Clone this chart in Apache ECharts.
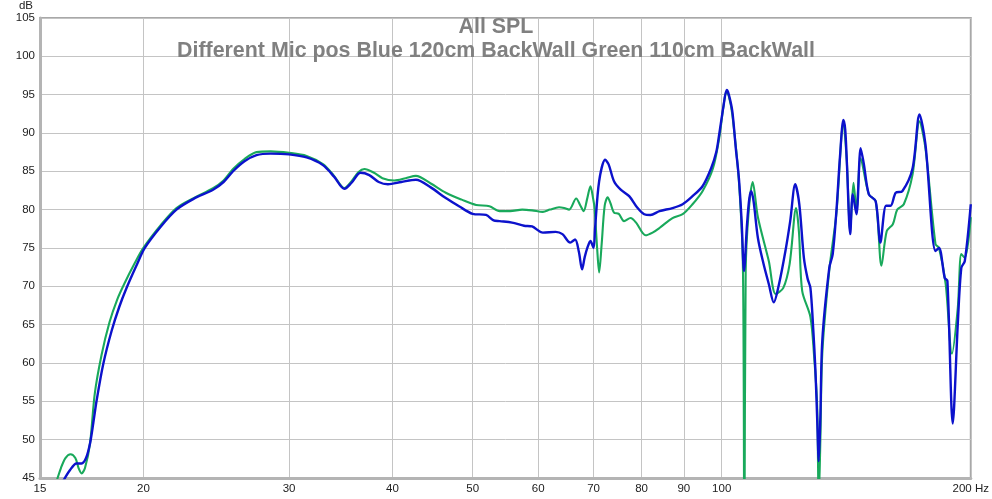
<!DOCTYPE html>
<html>
<head>
<meta charset="utf-8">
<script src="https://cdn.jsdelivr.net/npm/echarts@6/dist/echarts.min.js"></script>
<style>
  html, body { margin: 0; padding: 0; background: #fff; }
  #chart { width: 992px; height: 499px; }
</style>
</head>
<body>
<div id="chart"></div>
<script>
// frequency ticks shown on the log axis
const freqTicks = [15, 20, 30, 40, 50, 60, 70, 80, 90, 100, 200];

// Green: 110cm from back wall
const greenFreq = [15.7, 15.9, 16.1, 16.33, 16.55, 16.7, 16.84, 17.0, 17.24, 17.47, 17.8, 18.2, 18.6, 19.0, 19.5, 20.0,
  21.0, 21.93, 23.0, 24.28, 25.0, 25.67, 26.5, 27.4, 28.5, 30.0, 31.5, 33.0, 34.0, 35.0, 35.7, 36.4, 37.0, 38.0, 38.9,
  40.2, 41.5, 42.7, 44.5, 46.4, 48.5, 50.5, 52.4, 53.9, 55.5, 57.4, 59.0, 60.8, 62.0, 63.6, 64.5, 65.4, 66.7, 67.5,
  68.1, 68.8, 69.4, 69.9, 70.2, 70.7, 71.1, 71.6, 72.2, 72.8, 73.4, 74.1, 75.1, 76.2, 77.6, 78.8, 80.9, 82.5, 84.1,
  87.2, 89.7, 92.2, 94.8, 97.6, 99.3, 100.5, 101.3, 102.0, 103.0, 104.9, 106.1, 106.5, 106.9, 107.8, 109.0, 110.6,
  114.0, 116.2, 118.7, 120.8, 123.0, 124.0, 125.1, 128.0, 129.3, 130.4, 131.0, 131.6, 132.3, 134.9, 137.6, 140.3,
  141.6, 143.0, 144.3, 145.5, 147.2, 150.6, 153.5, 156.0, 158.3, 161.0, 163.0, 166.0, 170.1, 173.4, 176.3, 181.3,
  183.1, 186.5, 189.8, 192.9, 194.8, 196.7, 200.0];
const greenDb = [44.5, 46.3, 47.6, 48.1, 47.6, 46.3, 45.6, 46.3, 49.5, 56.0, 61.0, 65.3, 68.3, 70.5, 72.9, 75.0,
  78.0, 80.2, 81.5, 82.8, 83.8, 85.3, 86.6, 87.5, 87.6, 87.4, 87.0, 85.9, 84.4, 82.8, 83.7, 84.9, 85.3, 84.8, 84.1,
  83.8, 84.1, 84.4, 83.4, 82.2, 81.3, 80.6, 80.45, 79.8, 79.8, 80.0, 79.9, 79.7, 80.0, 80.3, 80.2, 80.0, 81.45, 80.5,
  79.8, 81.5, 83.05, 81.5, 80.2, 75.0, 71.8, 75.5, 80.5, 81.6, 80.8, 79.6, 79.45, 78.5, 78.9, 78.3, 76.65, 77.0, 77.6,
  78.9, 79.4, 80.7, 82.4, 85.4, 89.3, 93.5, 95.4, 94.8, 92.4, 83.7, 72.0, 30.0, 72.0, 79.8, 83.6, 79.0,
  73.3, 69.0, 69.8, 72.9, 80.2, 77.0, 69.4, 66.0, 61.0, 54.7, 42.0, 50.0, 61.2, 72.1, 79.5, 91.3,
  86.5, 77.2, 83.5, 80.0, 86.7, 82.0, 81.1, 72.7, 77.2, 78.1, 80.0, 80.7, 84.6, 91.5, 88.0, 75.5,
  75.0, 70.3, 61.2, 67.2, 74.2, 73.7, 79.0];

// Blue: 120cm from back wall
const blueFreq = [16.0, 16.3, 16.6, 16.84, 17.05, 17.24, 17.4, 17.56, 17.89, 18.31, 18.7, 19.09, 19.6, 20.08, 21.0,
  21.93, 23.0, 24.28, 25.0, 25.67, 26.5, 27.4, 28.5, 30.0, 31.5, 32.96, 34.0, 35.0, 35.7, 36.6, 37.5, 38.5, 39.5,
  41.0, 42.7, 44.5, 46.4, 48.2, 50.0, 51.9, 53.0, 53.9, 55.8, 57.7, 59.0, 60.8, 63.0, 64.2, 65.6, 66.5, 67.2, 67.8,
  68.3, 68.8, 69.4, 70.0, 70.3, 71.1, 72.3, 73.0, 74.1, 75.5, 77.3, 79.0, 80.6, 82.0, 84.1, 87.2, 89.7, 92.2, 94.8,
  97.1, 98.5, 99.3, 100.5, 101.4, 102.0, 103.0, 104.0, 104.9, 105.7, 106.4, 107.3, 108.0, 108.6, 109.3, 110.6,
  112.3, 114.0, 115.6, 117.3, 119.4, 121.0, 122.7, 124.1, 125.7, 127.0, 128.0, 129.0, 129.8, 130.5, 131.0, 131.6,
  132.3, 134.9, 136.2, 137.6, 139.0, 140.3, 141.0, 141.6, 143.0, 144.0, 145.5, 147.2, 148.5, 150.6, 153.5, 155.5,
  158.0, 160.0, 162.3, 165.3, 170.1, 173.4, 176.3, 181.3, 183.1, 186.0, 187.4, 190.2, 192.9, 194.8, 196.7, 200.0];
const blueDb = [44.6, 46.0, 46.9, 46.9, 47.6, 49.5, 52.2, 55.1, 59.9, 64.2, 67.3, 69.8, 72.6, 75.0, 77.8,
  80.0, 81.4, 82.6, 83.6, 85.0, 86.3, 87.1, 87.3, 87.2, 86.8, 85.8, 84.3, 82.7, 83.5, 84.8, 84.5, 83.6, 83.3,
  83.6, 83.9, 82.9, 81.5, 80.4, 79.45, 79.3, 78.6, 78.5, 78.3, 77.9, 77.8, 77.0, 77.1, 76.8, 75.7, 76.1, 74.5, 72.2,
  73.8, 75.0, 75.9, 75.0, 77.6, 83.7, 86.5, 85.9, 83.7, 82.6, 81.75, 80.3, 79.4, 79.3, 79.8, 80.2, 80.7, 81.75, 83.05,
  85.4, 87.5, 89.8, 93.5, 95.6, 95.0, 92.8, 88.0, 84.1, 78.5, 72.0, 78.1, 81.5, 82.4, 81.0, 76.3,
  73.0, 70.3, 67.9, 70.3, 74.6, 78.5, 83.3, 80.7, 73.7, 71.0, 69.8, 64.5, 59.0, 52.0, 47.2, 53.0,
  62.9, 72.4, 74.2, 79.8, 87.0, 91.7, 90.5, 86.7, 76.8, 82.0, 79.4, 88.0, 86.0, 82.0, 81.1, 75.7,
  80.5, 80.5, 82.2, 82.4, 85.4, 92.4, 88.5, 74.6, 75.0, 71.1, 70.7, 52.1, 65.1, 72.4, 73.3, 80.7];

function zip(xs, ys) {
  return xs.map((x, i) => [x, ys[i]]);
}

const chart = echarts.init(document.getElementById("chart"));
const fontName = "Liberation Sans, Arial, sans-serif";
const titleStyle = {
  fontFamily: fontName,
  fontSize: 21.4,
  fontWeight: "bold",
  color: "#808080"
};
const option = {
  animation: false,
  backgroundColor: "#fff",
  title: [
    { text: "All SPL", left: "center", top: 12, textStyle: titleStyle },
    { text: "Different Mic pos Blue 120cm BackWall Green 110cm BackWall", left: "center", top: 36, textStyle: titleStyle }
  ],
  grid: {
    left: 40, right: 20, top: 16, bottom: 21,
    show: true,
    borderColor: "#a8a8a8",
    borderWidth: 2
  },
  xAxis: {
    type: "log",
    logBase: 10,
    min: 15,
    max: 200,
    axisLine: { lineStyle: { color: "#b4b4b4", width: 3 } },
    axisTick: { show: false, customValues: freqTicks },
    axisLabel: {
      customValues: freqTicks,
      margin: 5,
      fontSize: 11.5,
      fontFamily: fontName,
      color: "#222",
      formatter: function (v) { return v === 200 ? "200 Hz" : String(v); }
    },
    splitLine: { show: true, lineStyle: { color: "#c4c4c4", width: 1 } }
  },
  yAxis: {
    type: "value",
    min: 45,
    max: 105,
    interval: 5,
    name: "dB",
    nameGap: 3,
    nameTextStyle: { fontSize: 11.5, color: "#222", align: "right", padding: [0, 7, 0, 0], fontFamily: fontName },
    axisLine: { show: true, lineStyle: { color: "#b4b4b4", width: 3 } },
    axisTick: { show: false },
    axisLabel: { margin: 5, fontSize: 11.5, color: "#222", fontFamily: fontName },
    splitLine: { show: true, lineStyle: { color: "#c4c4c4", width: 1 } }
  },
  series: [
    {
      name: "Green 110cm",
      type: "line",
      data: zip(greenFreq, greenDb),
      symbol: "none",
      smooth: 0.3,
      clip: true,
      lineStyle: { color: "#19a95b", width: 2.1 }
    },
    {
      name: "Blue 120cm",
      type: "line",
      data: zip(blueFreq, blueDb),
      symbol: "none",
      smooth: 0.3,
      clip: true,
      lineStyle: { color: "#0c12cc", width: 2.4 }
    }
  ]
};
chart.setOption(option);
</script>
</body>
</html>
